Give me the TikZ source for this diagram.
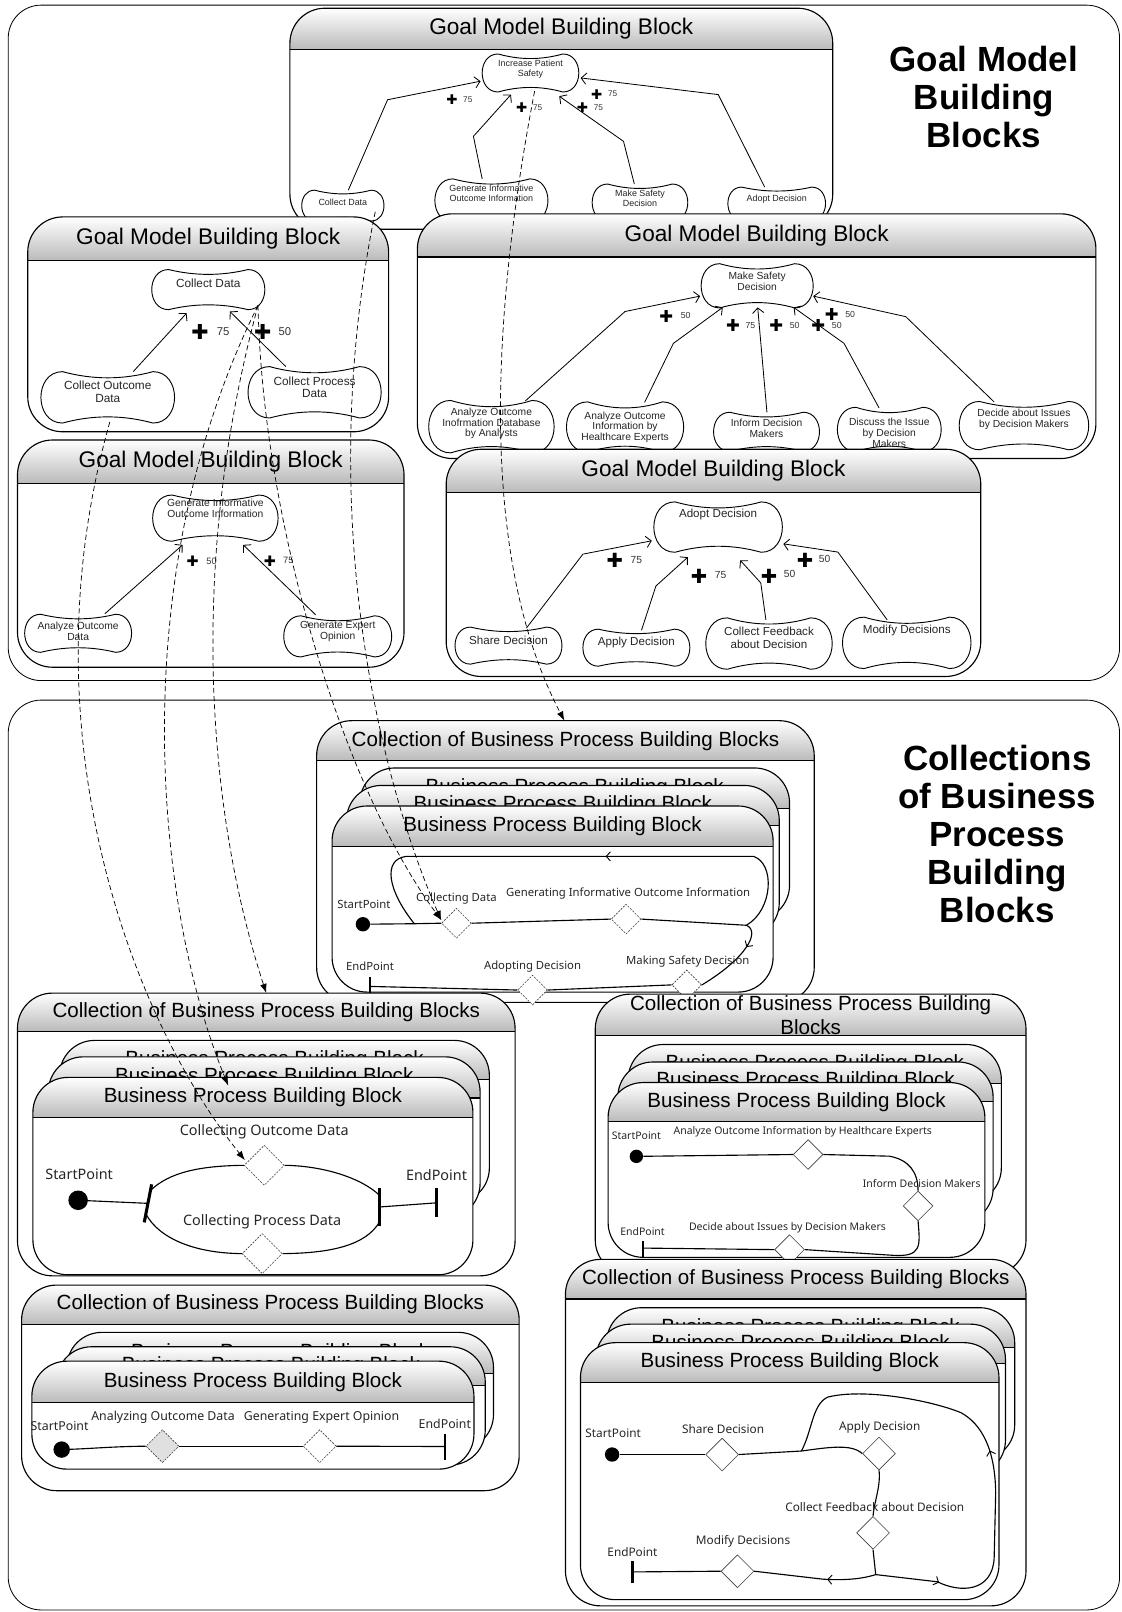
\documentclass[tikz,border=0pt]{standalone}
\usepackage{fontspec}
\setmainfont{Liberation Sans}
\newfontfamily\pfont{Noto Sans}
\newfontfamily\dvs{DejaVu Sans}
\usetikzlibrary{calc,shapes.geometric,arrows.meta,decorations.markings}
\newcommand\fs[2]{\fontsize{#1}{#2}\selectfont}
\newcommand\gfont{\fs{10}{11}}
\newcommand\pfs{\fs{11}{12}}
\newcommand\psz{14}
\newcommand\nsz{8}
\tikzset{
 frameline/.style={line width=0.8pt,rounded corners=32pt},
 blkline/.style={line width=1.1pt},
 gline/.style={line width=0.9pt},
 gtext/.style={align=center,inner sep=0pt,font=\gfont,text=black!85},
 gedge/.style={line width=0.8pt,-{Straight Barb[length=5pt,width=11pt,line width=0.8pt]}},
 plus/.style={inner sep=0pt,font=\dvs\fontsize{\psz}{\psz}\selectfont},
 num/.style={inner sep=0pt,font=\fontsize{\nsz}{\nsz}\selectfont,text=black!80},
 flow/.style={line width=1.1pt},
 ebar/.style={line width=2pt},
 fbar/.style={line width=3pt},
 sdot/.style={circle,fill=black,inner sep=0pt,minimum size=#1},
 dia/.style={diamond,draw=black!75,line width=0.6pt,fill=white,inner sep=0pt,minimum width=#1,minimum height=#1},
 ddia/.style={dia=#1,dash pattern=on 2pt off 1.2pt},
 plabel/.style={inner sep=0pt,font=\pfont\pfs,text=black!85},
 bigt/.style={align=center,inner sep=0pt,font=\bfseries\fs{34}{37}},
 dep/.style={line width=0.7pt,dash pattern=on 5pt off 3pt,-{Latex[length=9pt,width=6.5pt]}},
 mk/.style={postaction={decorate,decoration={markings,mark=at position #1 with {\arrow[line width=0.9pt]{Straight Barb[length=4pt,width=9pt]}}}}},
 mktwo/.style 2 args={postaction={decorate,decoration={markings,mark=at position #1 with {\arrow[line width=0.9pt]{Straight Barb[length=4pt,width=9pt]}},mark=at position #2 with {\arrow[line width=0.9pt]{Straight Barb[length=4pt,width=9pt]}}}}},
}
% block with shaded header: name, x1, y1, x2, y2, yh, font, title
\newcommand\hblock[8]{%
  \fill[white,rounded corners=34pt] (#2,#3) rectangle (#4,#5);
  \begin{scope}
    \clip[rounded corners=34pt] (#2,#3) rectangle (#4,#5);
    \shade[top color=white,bottom color=black!27] (#2,#3) rectangle (#4,#6);
  \end{scope}
  \draw[blkline,rounded corners=34pt] (#2,#3) rectangle (#4,#5);
  \draw[blkline] (#2,#6) -- (#4,#6);
  \node[align=center,inner sep=0pt,font=#7] (#1) at ({(#2+#4)/2},{(#3+#6)/2}) {#8};
}
% goal: name, cx, cy, w, h, text y, text
\newcommand\goal[7]{%
  \pgfmathsetmacro\GoL{#2-#4/2}%
  \pgfmathsetmacro\GoR{#2+#4/2}%
  \pgfmathsetmacro\GoT{#3-#5/2}%
  \pgfmathsetmacro\GoB{#3+#5/2}%
  \pgfmathsetmacro\GoA{min(0.42*#5,0.3*#4)}%
  \pgfmathsetmacro\GoD{0.16*#5}%
  \pgfmathsetmacro\GoS{(#4-2*\GoA)/3}%
  \pgfmathsetmacro\GoC{\GoA/3}%
  \draw[gline,fill=white] (\GoL+\GoA,\GoT) .. controls (\GoL+\GoA+\GoS,\GoT+\GoD) and (\GoR-\GoA-\GoS,\GoT+\GoD) .. (\GoR-\GoA,\GoT)
    .. controls (\GoR+\GoC,\GoT) and (\GoR+\GoC,\GoB) .. (\GoR-\GoA,\GoB)
    .. controls (\GoR-\GoA-\GoS,\GoB-\GoD) and (\GoL+\GoA+\GoS,\GoB-\GoD) .. (\GoL+\GoA,\GoB)
    .. controls (\GoL-\GoC,\GoB) and (\GoL-\GoC,\GoT) .. cycle;
  \node[inner sep=0pt,minimum width=#4,minimum height=#5] (#1) at (#2,#3) {};
  \node[gtext] (#1t) at (#2,#6) {#7};
}
\begin{document}
\begin{tikzpicture}[x=1pt,y=-1pt]
\useasboundingbox (0,0) rectangle (1091,1568);
\fill[white] (0,0) rectangle (1091,1568);
% outer frames
\draw[frameline] (8,5) rectangle (1089,662);
\draw[frameline] (8,681) rectangle (1089,1566);
\node[bigt] (T1) at (957,94) {Goal Model\\Building\\Blocks};
\node[bigt] (T2) at (970,811) {Collections\\of Business\\Process\\Building\\Blocks};

% ---------- Goal block A ----------
\hblock{gA}{282}{8}{810}{223}{48}{\fs{22}{25}}{Goal Model Building Block}
\renewcommand\gfont{\fs{8.7}{10}}
\goal{IPS}{516}{71}{94}{37}{67}{Increase Patient\\Safety}
\goal{CDa}{333.5}{200}{80}{30}{196.5}{Collect Data}
\goal{GIa}{478}{195}{110}{42}{188}{Generate Informative\\Outcome Information}
\goal{MSa}{622.5}{197}{93}{36}{193}{Make Safety\\Decision}
\goal{ADa}{755.5}{198}{95}{32}{193.7}{Adopt Decision}
\draw[gedge] ($(CDa)+(5.3,-15)$) -- (377,97) -- ($(IPS)+(-48.6,8)$);
\draw[gedge] ($(GIa)+(-9,-21)$) -- (460.5,132.6) -- ($(IPS)+(-19,21)$);
\draw[gedge] ($(MSa)+(-5.5,-18)$) -- (606.5,137.5) -- ($(IPS)+(28,22.6)$);
\draw[gedge] ($(ADa)+(-11.7,-16)$) -- (698.6,92) -- ($(IPS)+(48.8,4.8)$);
\renewcommand\psz{13}\renewcommand\nsz{8}
\node[plus] (pA1) at (439.6,97) {✚}; \node[num] (nA1) at (455,97) {75};
\node[plus] (pA2) at (507.4,105) {✚}; \node[num] (nA2) at (523,105) {75};
\node[plus] (pA3) at (566.5,105) {✚}; \node[num] (nA3) at (582,105) {75};
\node[plus] (pA4) at (580.4,92) {✚}; \node[num] (nA4) at (596,91) {75};

% ---------- Goal block B ----------
\hblock{gB}{27}{211}{378}{420}{253.5}{\fs{22}{25}}{Goal Model Building Block}
\renewcommand\gfont{\fs{11.5}{12}}
\goal{CDb}{202.6}{281.7}{110}{39}{276}{Collect Data}
\goal{COD}{104.8}{386.5}{130}{50}{381}{Collect Outcome\\Data}
\goal{CPD}{306}{381.6}{129.5}{50}{376.5}{Collect Process\\Data}
\draw[gedge] ($(COD)+(24.8,-25)$) -- ($(CDb)+(-21.1,22.9)$);
\draw[gedge] ($(CPD)+(-28,-25)$) -- ($(CDb)+(21,21.3)$);
\renewcommand\psz{20}\renewcommand\nsz{11}
\node[plus] (pB1) at (194.6,322.5) {✚}; \node[num] (nB1) at (217.1,322.5) {75};
\node[plus] (pB2) at (255.5,322.5) {✚}; \node[num] (nB2) at (277.1,322.5) {50};

% ---------- Goal block C ----------
\hblock{gC}{406}{208}{1066}{446}{250}{\fs{22}{25}}{Goal Model Building Block}
\renewcommand\gfont{\fs{10}{10.5}}
\goal{MSc}{736.5}{278}{109}{43}{273.3}{Make Safety\\Decision}
\goal{AOc1}{478}{415}{122}{51}{411.9}{Analyze Outcome\\Inofrmation Database\\by Analysts}
\goal{AOc2}{608}{415.4}{114}{49}{415.5}{Analyze Outcome\\Information by\\Healthcare Experts}
\goal{IDc}{745.6}{420}{103}{38}{417}{Inform Decision\\Makers}
\goal{DIc}{865}{417.7}{101}{43}{421}{Discuss the Issue\\by Decision\\Makers}
\goal{DAc}{996}{414}{126}{47}{407.6}{Decide about Issues\\by Decision Makers}
\draw[gedge] ($(AOc1)+(33,-25)$) -- (608,303) -- ($(MSc)+(-55.5,10)$);
\draw[gedge] ($(AOc2)+(19,-24)$) -- (655,334) -- ($(MSc)+(-33.5,21)$);
\draw[gedge] ($(IDc)+(0.4,-19)$) -- ($(MSc)+(0.5,21)$);
\draw[gedge] ($(DIc)+(-10,-21)$) -- (821,334) -- ($(MSc)+(35.5,21)$);
\draw[gedge] ($(DAc)+(-29,-23)$) -- (881,308) -- ($(MSc)+(54.5,10)$);
\renewcommand\psz{16}\renewcommand\nsz{8.5}
\node[plus] (pC1) at (648,308) {✚}; \node[num] (nC1) at (667,307) {50};
\node[plus] (pC2) at (713,317) {✚}; \node[num] (nC2) at (730,317) {75};
\node[plus] (pC3) at (755,317) {✚}; \node[num] (nC3) at (773,317) {50};
\node[plus] (pC4) at (796,317) {✚}; \node[num] (nC4) at (814,317) {50};
\node[plus] (pC5) at (809,306) {✚}; \node[num] (nC5) at (827,306) {50};

% ---------- Goal block D ----------
\hblock{gD}{17}{428}{393}{649}{470}{\fs{22}{25}}{Goal Model Building Block}
\renewcommand\gfont{\fs{10}{10.4}}
\goal{GId}{209.5}{504}{122}{45}{494.3}{Generate Informative\\Outcome Information}
\goal{AOD}{76}{616}{104}{37}{613.8}{Analyze Outcome\\Data}
\goal{GEO}{328.5}{619}{105}{40}{614.5}{Generate Expert\\Opinion}
\draw[gedge] ($(AOD)+(26,-19)$) -- ($(GId)+(-31.9,26)$);
\draw[gedge] ($(GEO)+(-21.5,-21)$) -- ($(GId)+(27.1,26)$);
\renewcommand\psz{14}\renewcommand\nsz{9}
\node[plus] (pD1) at (187.3,546) {✚}; \node[num] (nD1) at (205.8,546) {50};
\node[plus] (pD2) at (262.5,546) {✚}; \node[num] (nD2) at (280.4,545.5) {75};

% ---------- Goal block E ----------
\hblock{gE}{434}{437}{954}{658}{479}{\fs{22}{25}}{Goal Model Building Block}
\renewcommand\gfont{\fs{11.3}{12.5}}
\goal{ADe}{698.5}{512.7}{125}{49}{500}{Adopt Decision}
\goal{SDe}{494.6}{628}{104}{36}{623}{Share Decision}
\goal{APe}{619}{630}{104}{36}{625}{Apply Decision}
\goal{CFe}{748}{626}{123}{50}{620.5}{Collect Feedback\\about Decision}
\goal{MDe}{882}{625.3}{125}{50}{613.3}{Modify Decisions}
\draw[gedge] ($(SDe)+(17.4,-17)$) -- (567,539) -- ($(ADe)+(-64.5,13.3)$);
\draw[gedge] ($(APe)+(5,-17)$) -- (638,570) -- ($(ADe)+(-29.5,29.3)$);
\draw[gedge] ($(CFe)+(-3,-23)$) -- (740,567) -- ($(ADe)+(21.5,32.3)$);
\draw[gedge] ($(MDe)+(-19,-22.3)$) -- (815,537) -- ($(ADe)+(63.5,16.3)$);
\renewcommand\psz{19}\renewcommand\nsz{10}
\node[plus] (pE1) at (598,545) {✚}; \node[num] (nE1) at (619,545) {75};
\node[plus] (pE2) at (680,561) {✚}; \node[num] (nE2) at (701,559) {75};
\node[plus] (pE3) at (748,561) {✚}; \node[num] (nE3) at (768,558) {50};
\node[plus] (pE4) at (783,545) {✚}; \node[num] (nE4) at (802,544) {50};

% ---------- Collection 1 ----------
\hblock{cA}{308}{701}{792}{975}{740}{\fs{20}{23}}{Collection of Business Process Building Blocks}
\hblock{cAb1}{350}{747}{768}{895}{786}{\fs{20}{23}}{Business Process Building Block}
\hblock{cAb2}{337}{764}{758}{912}{803}{\fs{20}{23}}{Business Process Building Block}
\hblock{cAf}{323}{784}{752}{965}{823}{\fs{20}{23}}{Business Process Building Block}
\node[sdot=14] (s1) at (353,899) {};
\node[ddia=29] (d11) at (444,898) {};
\node[ddia=29] (d12) at (609,894) {};
\node[ddia=29] (d13) at (668,958) {};
\node[ddia=29] (d14) at (518,963) {};
\coordinate (e1) at (360,959.5);
\coordinate (j1L) at (403,898.5);
\coordinate (j1R) at (726,900);
\draw[ebar] ($(e1)+(0,-9)$) -- ($(e1)+(0,7)$);
\draw[flow] (s1) -- (j1L) -- (d11.west);
\draw[flow] (d11.east) -- (d12.west);
\draw[flow] (d12.east) -- (j1R);
\draw[flow,mk=0.3] (j1R) .. controls (740,906) and (726,932) .. (d13.east);
\draw[flow,mk=0.45] (j1R) .. controls (752,885) and (754,840) .. (733,833) -- (395,833) .. controls (372,836) and (377,866) .. (j1L);
\draw[flow] (d13.west) -- (d14.east);
\draw[flow] (d14.west) -- (e1);
\renewcommand\pfs{\fs{11}{12}}
\node[plabel] (l11) at (354,880) {StartPoint};
\node[plabel] (l12) at (444,874) {Collecting Data};
\node[plabel] (l13) at (611,869) {Generating Informative Outcome Information};
\node[plabel] (l14) at (669,935) {Making Safety Decision};
\node[plabel] (l15) at (518,940) {Adopting Decision};
\node[plabel] (l16) at (360,940) {EndPoint};

% ---------- Collection 2 ----------
\hblock{cB}{17}{966}{501}{1241}{1003}{\fs{20}{23}}{Collection of Business Process Building Blocks}
\hblock{cBb1}{58}{1012}{476}{1170}{1050}{\fs{20}{23}}{Business Process Building Block}
\hblock{cBb2}{47}{1028}{467}{1185}{1068}{\fs{20}{23}}{Business Process Building Block}
\hblock{cBf}{32}{1048}{460}{1240}{1087}{\fs{20}{23}}{Business Process Building Block}
\node[sdot=19] (s2) at (76,1167.5) {};
\coordinate (f2) at (144,1170.5);
\coordinate (f2t) at (146.3,1158);
\coordinate (f2b) at (142,1181);
\draw[fbar] ($(f2)+(3.5,-18.5)$) -- ($(f2)+(-3.7,18.5)$);
\node[ddia=39] (d21) at (257,1133.5) {};
\node[ddia=39] (d22) at (255,1219.4) {};
\coordinate (j2) at (369.5,1174);
\draw[fbar] ($(j2)+(0,-18.5)$) -- ($(j2)+(0,19)$);
\coordinate (e2) at (424.6,1170);
\draw[ebar] ($(e2)+(0,-14.5)$) -- ($(e2)+(0,13.7)$);
\draw[flow] (s2) -- (f2);
\draw[flow] (f2t) .. controls (165,1140) and (195,1134) .. (d21.west);
\draw[flow] (d21.east) .. controls (315,1134) and (352,1146) .. ($(j2)+(0,-11)$);
\draw[flow] (f2b) .. controls (155,1205) and (190,1219) .. (d22.west);
\draw[flow] (d22.east) .. controls (320,1219) and (356,1212) .. ($(j2)+(0,14)$);
\draw[flow] (j2) -- (e2);
\renewcommand\pfs{\fs{14}{15}}
\node[plabel] (l21) at (77,1142) {StartPoint};
\node[plabel] (l22) at (257,1101) {Collecting Outcome Data};
\node[plabel] (l23) at (255,1188) {Collecting Process Data};
\node[plabel] (l24) at (424.6,1143) {EndPoint};

% ---------- Collection 4 (right middle) ----------
\hblock{cD}{579}{967}{998}{1240}{1007.4}{\fs{20}{23}}{Collection of Business Process Building\\Blocks}
\hblock{cDb1}{611}{1016}{974}{1170}{1054}{\fs{20}{23}}{Business Process Building Block}
\hblock{cDb2}{601}{1033}{966}{1190}{1071}{\fs{20}{23}}{Business Process Building Block}
\hblock{cDf}{591.5}{1053}{958}{1223}{1091}{\fs{20}{23}}{Business Process Building Block}
\node[sdot=13] (s4) at (619,1124.8) {};
\node[dia=29] (d41) at (786,1123) {};
\node[dia=29] (d42) at (893,1173) {};
\node[dia=29] (d43) at (768,1215.5) {};
\coordinate (e4) at (625,1214);
\draw[ebar] ($(e4)+(0,-7)$) -- ($(e4)+(0,9)$);
\draw[flow] (s4) -- (d41.west);
\draw[flow] (d41.east) -- (865,1124.6) .. controls (884,1128) and (893,1140) .. (d42.north);
\draw[flow] (d42.south) .. controls (895,1212) and (897,1223) .. (868,1221) -- (d43.east);
\draw[flow] (d43.west) -- (e4);
\renewcommand\pfs{\fs{10.2}{11}}
\node[plabel] (l41) at (619,1105) {StartPoint};
\node[plabel,anchor=west] (l42) at (655,1100.5) {Analyze Outcome Information by Healthcare Experts};
\node[plabel,anchor=east] (l43) at (954,1151.3) {Inform Decision Makers};
\node[plabel,anchor=west] (l44) at (670,1194.4) {Decide about Issues by Decision Makers};
\node[plabel] (l45) at (625,1198.3) {EndPoint};

% ---------- Collection 3 (bottom left) ----------
\hblock{cC}{21}{1250}{505}{1450}{1288}{\fs{20}{23}}{Collection of Business Process Building Blocks}
\hblock{cCb1}{65}{1296}{480}{1410}{1336}{\fs{20}{23}}{Business Process Building Block}
\hblock{cCb2}{55}{1310}{472}{1425}{1348}{\fs{20}{23}}{Business Process Building Block}
\hblock{cCf}{31}{1324}{461}{1429}{1364.5}{\fs{20}{23}}{Business Process Building Block}
\node[sdot=16] (s3) at (60,1410) {};
\node[ddia=32,fill=black!12] (d31) at (158,1406.7) {};
\node[ddia=32] (d32) at (311,1406.7) {};
\coordinate (e3) at (432.7,1407);
\draw[ebar] ($(e3)+(0,-12.5)$) -- ($(e3)+(0,12.7)$);
\draw[flow] (s3) .. controls (90,1409) and (110,1407) .. (d31.west);
\draw[flow] (d31.east) -- (d32.west);
\draw[flow] (d32.east) -- (e3);
\renewcommand\pfs{\fs{12}{13}}
\node[plabel] (l31) at (58,1387) {StartPoint};
\node[plabel] (l32) at (158.6,1379) {Analyzing Outcome Data};
\node[plabel] (l33) at (312.8,1379) {Generating Expert Opinion};
\node[plabel] (l34) at (432.7,1385) {EndPoint};

% ---------- Collection 5 (bottom right) ----------
\hblock{cE}{550}{1225}{998}{1562}{1263.5}{\fs{20}{23}}{Collection of Business Process Building Blocks}
\hblock{cEb1}{590}{1272}{987}{1420}{1311}{\fs{20}{23}}{Business Process Building Block}
\hblock{cEb2}{579.5}{1288}{978}{1435}{1326}{\fs{20}{23}}{Business Process Building Block}
\hblock{cEf}{564.6}{1306}{971.7}{1556}{1344.5}{\fs{20}{23}}{Business Process Building Block}
\node[sdot=14] (s5) at (595.4,1414.8) {};
\node[dia=32] (d51) at (702.4,1414.8) {};
\node[dia=32] (d52) at (855,1413.9) {};
\node[dia=32] (d53) at (849.2,1491) {};
\node[dia=32] (d54) at (717.3,1528.3) {};
\coordinate (e5) at (615.2,1529);
\coordinate (b5) at (779.5,1411.4);
\coordinate (j5) at (851.8,1531.6);
\draw[ebar] ($(e5)+(0,-10.5)$) -- ($(e5)+(0,10.6)$);
\draw[flow] (s5) -- (d51.west);
\draw[flow] (d51.east) -- (b5) .. controls (805,1408) and (828,1404) .. (d52.west);
\draw[flow] (d52.south) .. controls (857,1445) and (850,1462) .. (d53.north);
\draw[flow] (d53.south) -- (j5);
\draw[flow,mk=0.4] (j5) .. controls (835,1537) and (815,1537) .. (800,1536) -- (d54.east);
\draw[flow] (d54.west) -- (e5);
\draw[flow,mktwo={0.13}{0.5}] (j5) -- (911.8,1538.6) .. controls (935,1550) and (965,1548) .. (967,1516) -- (968.5,1452) .. controls (968,1410) and (955,1385) .. (934.5,1374) .. controls (905,1362) and (840,1350) .. (805,1359) .. controls (790,1366) and (790,1392) .. (b5);
\renewcommand\pfs{\fs{11.5}{12.5}}
\node[plabel] (l51) at (596.4,1394.4) {StartPoint};
\node[plabel] (l52) at (703.4,1389.9) {Share Decision};
\node[plabel] (l53) at (855.7,1388.9) {Apply Decision};
\node[plabel] (l54) at (850.9,1466.1) {Collect Feedback about Decision};
\node[plabel] (l55) at (722.8,1499.1) {Modify Decisions};
\node[plabel] (l56) at (615.2,1509.5) {EndPoint};

% ---------- dashed traceability links ----------
\coordinate (c1top) at (549,701);
\coordinate (c2top) at (259,966);
\coordinate (c2card) at (222,1056);
\draw[dep] ($(IPS.south)+(4,-1)$) .. controls (470,350) and (475,560) .. (c1top);
\draw[dep] ($(CDa)+(31.5,6)$) .. controls (305,500) and (370,760) .. ($(d11.west)+(0,-3)$);
\draw[dep] ($(CDb)+(48.4,15.3)$) .. controls (255,500) and (330,760) .. ($(d11.west)+(0,-3)$);
\draw[dep] ($(CDb)+(48.4,15.3)$) .. controls (120,560) and (150,880) .. (c2card);
\draw[dep] ($(CDb)+(48.4,15.3)$) .. controls (180,560) and (205,800) .. (c2top);
\draw[dep] ($(COD)+(2,24)$) .. controls (25,700) and (120,980) .. ($(d21.west)+(1,-5)$);
\end{tikzpicture}
\end{document}
